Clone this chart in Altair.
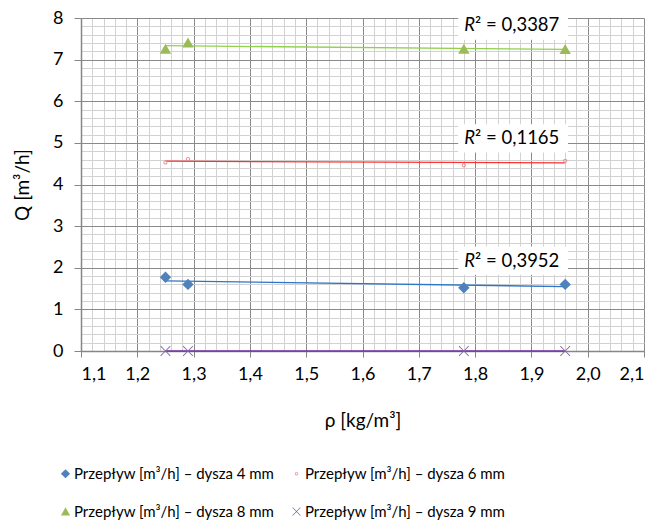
import altair as alt
import pandas as pd

# ---- data ----
rho = [1.25, 1.29, 1.78, 1.96]
q_4mm = [1.77, 1.60, 1.52, 1.60]
q_6mm = [4.53, 4.61, 4.46, 4.57]
q_8mm = [7.26, 7.41, 7.26, 7.25]
q_9mm = [0.0, 0.0, 0.0, 0.0]

series_names = [
    "Przepływ [m³/h] – dysza 4 mm",
    "Przepływ [m³/h] – dysza 6 mm",
    "Przepływ [m³/h] – dysza 8 mm",
    "Przepływ [m³/h] – dysza 9 mm",
]
r2_texts = ["² = 0,3952", "² = 0,1165", "² = 0,3387"]
r2_anchor_x = [1.80, 1.80, 1.80]
r2_anchor_y = [2.17, 5.11, 7.82]

x_major = [1.1, 1.2, 1.3, 1.4, 1.5, 1.6, 1.7, 1.8, 1.9, 2.0, 2.1]
x_minor = [round(1.1 + 0.02 * i, 2) for i in range(51)]
y_major = [0, 1, 2, 3, 4, 5, 6, 7, 8]
y_minor = [round(0.2 * i, 1) for i in range(41)]

marker_colors = ["#4F81BD", "#F08A8A", "#9BBB59", "#8064A2"]
line_colors = ["#2E75C6", "#FF3030", "#92D050", "#7030A0"]

diamond = "M0,-1L1,0L0,1L-1,0Z"
ring = "M-0.36,0A0.36,0.36 0 1,0 0.36,0A0.36,0.36 0 1,0 -0.36,0Z M-0.2,0A0.2,0.2 0 1,1 0.2,0A0.2,0.2 0 1,1 -0.2,0Z"
triangle = "M0,-0.9L1,0.85L-1,0.85Z"
xmark = ("M-0.80,0.90L0,0.10L0.80,0.90L0.90,0.80L0.10,0L0.90,-0.80L0.80,-0.90"
         "L0,-0.10L-0.80,-0.90L-0.90,-0.80L-0.10,0L-0.90,0.80Z")
shapes = [diamond, ring, triangle, xmark]

# legend fills column by column: order so rows read 4,6 / 8,9
legend_order = [0, 2, 1, 3]
dom = [series_names[i] for i in legend_order]
mcol = [marker_colors[i] for i in legend_order]
lcol = [line_colors[i] for i in legend_order]
shp = [shapes[i] for i in legend_order]

rows = []
for name, vals in zip(series_names, [q_4mm, q_6mm, q_8mm, q_9mm]):
    for xv, yv in zip(rho, vals):
        rows.append({"x": xv, "q": yv, "series": name, "trend": name})
df = pd.DataFrame(rows)

lab = pd.DataFrame({
    "x": r2_anchor_x,
    "y": r2_anchor_y,
    "t": r2_texts,
})
lab["bx1"] = lab["x"] - 0.03
lab["bx2"] = lab["x"] + 0.165
lab["by1"] = lab["y"] - 0.34
lab["by2"] = lab["y"] + 0.34

FONT = "Lato"
xs = alt.Scale(domain=[1.1, 2.1], nice=False, zero=False)
ys = alt.Scale(domain=[0, 8], nice=False)

minor = alt.Chart(df).mark_point(opacity=0).encode(
    x=alt.X("x:Q", scale=xs, axis=alt.Axis(values=x_minor, grid=True, gridColor="#D2D2D2",
                                           gridWidth=1, labels=False, ticks=False, domain=False,
                                           title=None, orient="bottom")),
    y=alt.Y("q:Q", scale=ys, axis=alt.Axis(values=y_minor, grid=True, gridColor="#D2D2D2",
                                           gridWidth=1, labels=False, ticks=False, domain=False,
                                           title=None, orient="left")),
)

major = alt.Chart(df).mark_point(opacity=0).encode(
    x=alt.X("x:Q", scale=xs, axis=alt.Axis(
        values=x_major, grid=True, gridColor="#8A8A8A", gridWidth=1,
        labelExpr="replace(format(datum.value, '.1f'), '.', ',')",
        labelFont=FONT, labelFontSize=18, labelColor="#000000", labelPadding=8,
        ticks=True, tickSize=6, tickColor="#868686", domainColor="#868686", domainWidth=1.5,
        title="ρ [kg/m³]", titleFont=FONT, titleFontSize=19, titleFontWeight="normal",
        titleColor="#000000", titlePadding=28, orient="bottom")),
    y=alt.Y("q:Q", scale=ys, axis=alt.Axis(
        values=y_major, grid=True, gridColor="#8A8A8A", gridWidth=1, format="d",
        labelFont=FONT, labelFontSize=18, labelColor="#000000", labelPadding=11,
        ticks=True, tickSize=7, tickColor="#868686", domainColor="#868686", domainWidth=1.5,
        title="Q [m³/h]", titleFont=FONT, titleFontSize=19, titleFontWeight="normal",
        titleColor="#000000", titlePadding=20, orient="left")),
)

boxes = alt.Chart(lab).mark_rect(color="white").encode(
    x=alt.X("bx1:Q", scale=xs, axis=None), x2="bx2:Q",
    y=alt.Y("by1:Q", scale=ys, axis=None), y2="by2:Q",
)

lines = alt.Chart(df).transform_regression(
    "x", "q", groupby=["trend"]
).mark_line(strokeWidth=1.3).encode(
    x=alt.X("x:Q", scale=xs, axis=None),
    y=alt.Y("q:Q", scale=ys, axis=None),
    stroke=alt.Stroke("trend:N", scale=alt.Scale(domain=dom, range=lcol), legend=None),
)

legend = alt.Legend(title=None, orient="none", columns=2,
                    legendX=-23, legendY=448,
                    labelFont=FONT, labelFontSize=15, labelColor="#000000",
                    symbolSize=85, symbolOpacity=1, labelOffset=1,
                    rowPadding=22, columnPadding=14, labelLimit=320)

points = alt.Chart(df).mark_point(filled=True, size=130, opacity=1).encode(
    x=alt.X("x:Q", scale=xs, axis=None),
    y=alt.Y("q:Q", scale=ys, axis=None),
    color=alt.Color("series:N", scale=alt.Scale(domain=dom, range=mcol), legend=legend),
    shape=alt.Shape("series:N", scale=alt.Scale(domain=dom, range=shp), legend=legend),
)

r_text = alt.Chart(lab).mark_text(text="R", fontStyle="italic", align="right", baseline="middle",
                                  font=FONT, fontSize=18.5, color="#000000").encode(
    x=alt.X("x:Q", scale=xs, axis=None), y=alt.Y("y:Q", scale=ys, axis=None))
rest_text = alt.Chart(lab).mark_text(align="left", baseline="middle", font=FONT, fontSize=18.5,
                                     color="#000000").encode(
    x=alt.X("x:Q", scale=xs, axis=None), y=alt.Y("y:Q", scale=ys, axis=None), text="t:N")

chart = alt.layer(minor, major, boxes, lines, points, r_text, rest_text).resolve_axis(
    x="independent", y="independent"
).resolve_scale(color="independent", shape="independent", stroke="independent").properties(
    width=563, height=333,
    autosize=alt.AutoSizeParams(type="none"),
    padding={"left": 73, "top": 10, "right": 5, "bottom": 170},
).configure_view(stroke=None).configure(background="white")

chart.save("out.html", embed_options={"renderer": "svg", "actions": False})
